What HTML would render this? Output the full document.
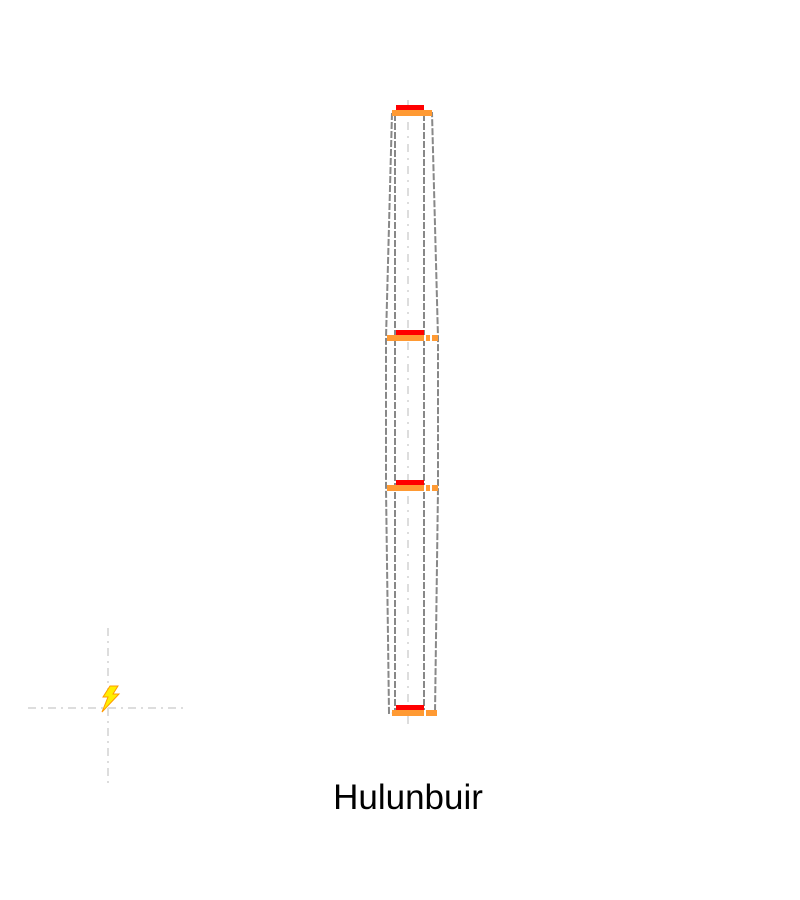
<!DOCTYPE html>
<html><head><meta charset="utf-8"><style>
html,body{margin:0;padding:0;background:#fff;width:800px;height:900px;overflow:hidden}
svg{display:block}
</style></head><body>
<svg id="chart" width="800" height="900">
<g id="crosshair">
<line x1="28" y1="708" x2="188" y2="708" stroke="#ddd" stroke-width="2" stroke-dasharray="8,5,2,5"/>
<line x1="108" y1="628" x2="108" y2="788" stroke="#ddd" stroke-width="2" stroke-dasharray="8,5,2,5"/>
<path d="M110,686 L103,697 L108,697 L102,712 L119,694 L113,694 L118,686 Z" fill="#ffee00" stroke="#ff9a00" stroke-width="1"/>
</g>
<text x="408" y="809" font-family="Liberation Sans, sans-serif" font-size="35" text-anchor="middle" fill="#000">Hulunbuir</text>
</svg>
<script>
const levels = [100, 62.5, 37.5, 0];
const outerHalf = [20, 26, 26, 23];
const innerHalf = [14.5, 14.5, 14.5, 14.5];
const cx = 408;
const ocx = 412;
const icx = 409.5;
const ns = 'http://www.w3.org/2000/svg';
const svgEl = document.getElementById('chart');
function yScale(v){ return 710 - v * 6.0; }
function mk(tag, attrs){ const e=document.createElementNS(ns,tag); for(const k in attrs) e.setAttribute(k,attrs[k]); svgEl.appendChild(e); return e; }

const mid = mk('line',{x1:cx,y1:100,x2:cx,y2:725,stroke:'#ddd','stroke-width':2,'stroke-dasharray':'8,6,2,6'});



let L = '', R = '';
levels.forEach((v,i)=>{ L += (i?' L':'M') + (ocx-outerHalf[i]) + ',' + (yScale(v)+3); });
for(let i=levels.length-1;i>=0;i--){ R += ' L' + (ocx+outerHalf[i]) + ',' + (yScale(levels[i])+3); }
const outer = mk('path',{d:L+R+' Z',fill:'none',stroke:'#888','stroke-width':2,'stroke-dasharray':'7,2'});



const topY = yScale(levels[0]), botY = yScale(levels[levels.length-1]);
[-1,1].forEach(s=>{
  const l = mk('line',{x1:icx+s*innerHalf[0],y1:topY+4,x2:icx+s*innerHalf[0],y2:botY+3,stroke:'#888','stroke-width':2,'stroke-dasharray':'7,2'});
  
  
});

levels.forEach((v,i)=>{
  const yy = yScale(v);
  const r = mk('rect',{x:396,y:yy-5,width:28,height:5,fill:'#ff0000'});
  
  
  const x0 = (i==0||i==3) ? 392 : ocx-outerHalf[i]+1;
  const x1 = ocx+outerHalf[i] - (i==3 ? -2 : 0);
  const o = mk('rect',{x:x0,y:yy,width:x1-x0,height:6,fill:'#ff9a33'});
  
  
  if(i>0){
    const g = mk('rect',{x:424,y:yy,width:2,height:6,fill:'#fff'});
    
    
  }
  if(i==1||i==2){
    const g2 = mk('rect',{x:430,y:yy,width:2,height:6,fill:'#fff'});
    
    
  }
});
</script>
</body></html>
